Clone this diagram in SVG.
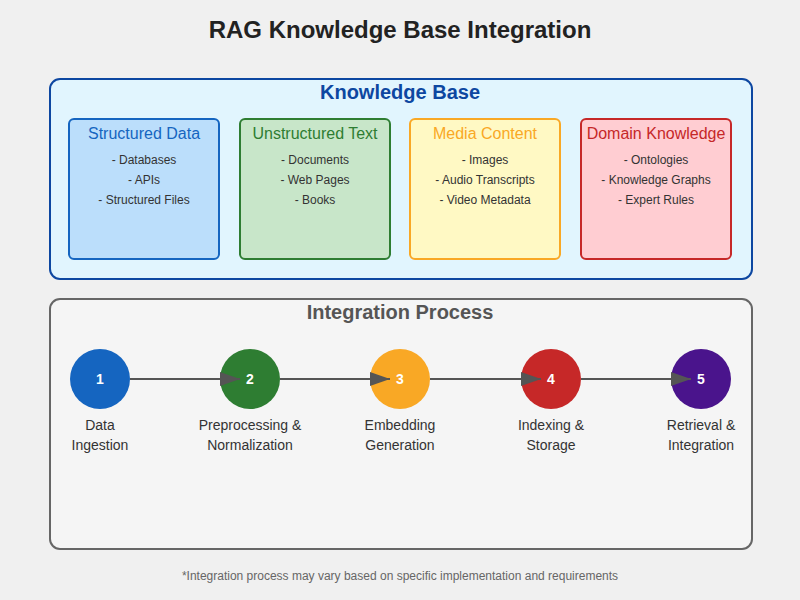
<svg xmlns="http://www.w3.org/2000/svg" width="800" height="600" viewBox="0 0 800 600">
<defs>
<marker id="arrow" markerWidth="10" markerHeight="7" refX="10" refY="3.5" orient="auto" markerUnits="strokeWidth">
<polygon points="0 0, 10 3.5, 0 7" fill="#555"/>
</marker>
<style>
text{font-family:"Liberation Sans",Arial,sans-serif;text-anchor:middle}
.title{font-size:24px;font-weight:bold;fill:#222}
.sec{font-size:20px;font-weight:bold}
.sub{font-size:16px}
.item{font-size:12px;fill:#333}
.card{stroke-width:2}
.num{font-size:14px;font-weight:bold;fill:#fff}
.lbl{font-size:14px;fill:#333}
.conn{stroke:#555;stroke-width:2;fill:none;marker-end:url(#arrow)}
</style>
</defs>
<rect width="800" height="600" fill="#f0f0f0"/>
<text class="title" x="400" y="38">RAG Knowledge Base Integration</text>

<g id="knowledge-base">
<rect x="50" y="79" width="702" height="200" rx="10" fill="#e1f5fe" stroke="#0d47a1" stroke-width="2"/>
<text class="sec" x="400" y="99" fill="#0d47a1">Knowledge Base</text>
</g>
<g id="structured-data">
<rect class="card" x="69" y="119" width="150" height="140" rx="5" fill="#bbdefb" stroke="#1565c0"/>
<text class="sub" x="144" y="139" fill="#1565c0">Structured Data</text>
<text class="item" x="144" y="164">- Databases</text>
<text class="item" x="144" y="184">- APIs</text>
<text class="item" x="144" y="204">- Structured Files</text>
</g>
<g id="unstructured-text">
<rect class="card" x="240" y="119" width="150" height="140" rx="5" fill="#c8e6c9" stroke="#2e7d32"/>
<text class="sub" x="315" y="139" fill="#2e7d32">Unstructured Text</text>
<text class="item" x="315" y="164">- Documents</text>
<text class="item" x="315" y="184">- Web Pages</text>
<text class="item" x="315" y="204">- Books</text>
</g>
<g id="media-content">
<rect class="card" x="410" y="119" width="150" height="140" rx="5" fill="#fff9c4" stroke="#f9a825"/>
<text class="sub" x="485" y="139" fill="#f9a825">Media Content</text>
<text class="item" x="485" y="164">- Images</text>
<text class="item" x="485" y="184">- Audio Transcripts</text>
<text class="item" x="485" y="204">- Video Metadata</text>
</g>
<g id="domain-knowledge">
<rect class="card" x="581" y="119" width="150" height="140" rx="5" fill="#ffcdd2" stroke="#c62828"/>
<text class="sub" x="656" y="139" fill="#c62828">Domain Knowledge</text>
<text class="item" x="656" y="164">- Ontologies</text>
<text class="item" x="656" y="184">- Knowledge Graphs</text>
<text class="item" x="656" y="204">- Expert Rules</text>
</g>

<g id="integration-process">
<rect x="50" y="299" width="702" height="250" rx="10" fill="#f5f5f5" stroke="#666" stroke-width="2"/>
<text class="sec" x="400" y="319" fill="#555">Integration Process</text>
</g>

<g id="step1">
<circle cx="100" cy="379" r="30" fill="#1565c0"/>
<text class="num" x="100" y="384">1</text>
<text class="lbl" x="100" y="430">Data</text>
<text class="lbl" x="100" y="450">Ingestion</text>
</g>
<g id="step2">
<circle cx="250" cy="379" r="30" fill="#2e7d32"/>
<text class="num" x="250" y="384">2</text>
<text class="lbl" x="250" y="430">Preprocessing &amp;</text>
<text class="lbl" x="250" y="450">Normalization</text>
</g>
<g id="step3">
<circle cx="400" cy="379" r="30" fill="#f9a825"/>
<text class="num" x="400" y="384">3</text>
<text class="lbl" x="400" y="430">Embedding</text>
<text class="lbl" x="400" y="450">Generation</text>
</g>
<g id="step4">
<circle cx="551" cy="379" r="30" fill="#c62828"/>
<text class="num" x="551" y="384">4</text>
<text class="lbl" x="551" y="430">Indexing &amp;</text>
<text class="lbl" x="551" y="450">Storage</text>
</g>
<g id="step5">
<circle cx="701" cy="379" r="30" fill="#4a148c"/>
<text class="num" x="701" y="384">5</text>
<text class="lbl" x="701" y="430">Retrieval &amp;</text>
<text class="lbl" x="701" y="450">Integration</text>
</g>

<g id="connectors">
<line class="conn" x1="130" y1="379" x2="240" y2="379"/>
<line class="conn" x1="280" y1="379" x2="390" y2="379"/>
<line class="conn" x1="430" y1="379" x2="541" y2="379"/>
<line class="conn" x1="581" y1="379" x2="691" y2="379"/>
</g>

<text x="400" y="580" font-size="12" fill="#666">*Integration process may vary based on specific implementation and requirements</text>
</svg>
